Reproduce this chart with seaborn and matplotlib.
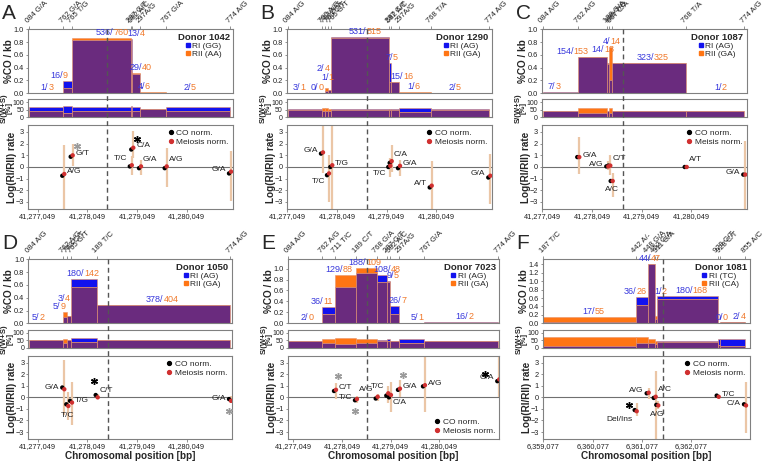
import numpy as np
import pandas as pd
import matplotlib
matplotlib.use("Agg")
import matplotlib.pyplot as plt
from matplotlib.lines import Line2D
from matplotlib.transforms import blended_transform_factory
import seaborn as sns

# ---------------- data ----------------
# Panel A, donor 1042
snp_pos_A = [41276880, 41277564, 41277733, 41278922, 41278952, 41279107, 41279624, 41280918]
snp_lab_A = ["084 G/A", "762 G/A", "765 T/G", "287 C/T", "582 A/C", "297A/G", "767 G/A", "774 A/G"]
rate_RI_A = [0.008, 0.19, 0.84, 0.85, 0.30, 0.012, 0.006]
rate_RII_A = [0.012, 0.08, 0.87, 0.33, 0.32, 0.018, 0.010]
n_RI_A = [1, 16, 536, 13, 29, 4, 2]
n_RII_A = [3, 9, 760, 4, 40, 6, 5]
sws_RI_A = [67, 78, 67, 72, 67, 53, 67]
sws_RII_A = [43, 27, 43, 43, 43, 55, 43]
pt_idx_A = [1, 2, 3, 4, 5, 6, 7]
pt_lab_A = ["A/G", "G/T", "T/C", "C/A", "G/A", "A/G", "G/A"]
co_A = [-0.75, 0.88, 0.05, 1.5, -0.1, -0.1, -0.55]
meio_A = [-0.6, 1.0, 0.15, 1.65, 0.05, 0.05, -0.4]
lo_A = [-3.8, 0.05, -0.7, 0.8, -0.7, -1.7, -2.9]
hi_A = [1.9, 2.0, 0.9, 3.1, 0.6, 1.6, 1.4]
star_x_A = [41277834, 41279041]
star_y_A = [1.8, 2.4]
star_kind_A = ["meiosis", "co"]

# Panel B, donor 1290
snp_pos_B = [41277057, 41277747, 41277801, 41277868, 41277934, 41279101, 41279129, 41279296, 41279934, 41281113]
snp_lab_B = ["084 A/G", "760 A/G", "763 A/G", "763 C/T", "765 G/T", "287 C/T", "582 A/C", "297A/G", "768 T/A", "774 A/G"]
rate_RI_B = [0.008, 0.0, 0.04, 0.05, 0.875, 0.48, 0.17, 0.006, 0.004]
rate_RII_B = [0.004, 0.0, 0.08, 0.05, 0.87, 0.18, 0.18, 0.02, 0.008]
n_RI_B = [3, 0, 2, 1, 531, 7, 15, 1, 2]
n_RII_B = [1, 0, 4, 1, 515, 5, 16, 6, 5]
sws_RI_B = [52, 40, 40, 45, 52, 58, 52, 64, 52]
sws_RII_B = [48, 60, 62, 55, 48, 48, 48, 33, 48]
pt_idx_B = [1, 3, 4, 5, 6, 7, 8, 9]
pt_lab_B = ["G/A", "T/C", "T/G", "T/C", "C/A", "G/A", "A/T", "G/A"]
co_B = [1.15, -0.7, 0.0, 0.0, 0.35, -0.1, -1.75, -0.9]
meio_B = [1.25, -0.55, 0.15, 0.1, 0.5, 0.1, -1.6, -0.75]
lo_B = [-0.5, -3.0, -3.8, -0.9, -0.4, -0.8, -3.8, -3.2]
hi_B = [3.8, 1.0, 3.8, 0.8, 1.9, 0.6, 0.5, 1.1]
star_x_B, star_y_B, star_kind_B = [], [], []

# Panel C, donor 1087
snp_pos_C = [41277057, 41277773, 41278357, 41278397, 41278445, 41279934, 41281113]
snp_lab_C = ["084 A/G", "762 A/G", "188 G/A", "189 T/C", "567 C/A", "768 T/A", "774 A/G"]
rate_RI_C = [0.02, 0.57, 0.47, 0.20, 0.48, 0.004]
rate_RII_C = [0.01, 0.57, 0.45, 0.72, 0.48, 0.008]
n_RI_C = [7, 154, 14, 4, 323, 1]
n_RII_C = [3, 153, 13, 14, 325, 2]
sws_RI_C = [45, 31, 45, 31, 45, 45]
sws_RII_C = [45, 60, 45, 60, 45, 45]
pt_idx_C = [1, 2, 3, 4, 5, 6]
pt_lab_C = ["G/A", "A/G", "C/T", "A/C", "A/T", "G/A"]
co_C = [0.85, 0.05, 0.12, -1.2, 0.0, -0.65]
meio_C = [0.85, 0.05, 0.12, -1.2, 0.0, -0.65]
lo_C = [-0.6, -0.3, -0.7, -2.6, -0.1, -3.8]
hi_C = [2.6, 0.5, 1.0, -0.5, 0.1, 2.2]
star_x_C, star_y_C, star_kind_C = [], [], []

# Panel D, donor 1050
snp_pos_D = [41276880, 41277564, 41277645, 41277719, 41278236, 41280918]
snp_lab_D = ["084 A/G", "762 A/G", "763 C/T", "765 G/T", "189 T/C", "774 A/G"]
rate_RI_D = [0.008, 0.10, 0.11, 0.69, 0.28]
rate_RII_D = [0.005, 0.18, 0.12, 0.56, 0.29]
n_RI_D = [5, 5, 3, 180, 378]
n_RII_D = [2, 9, 4, 142, 404]
sws_RI_D = [50, 35, 50, 68, 50]
sws_RII_D = [50, 62, 50, 38, 50]
pt_idx_D = [1, 2, 3, 4, 5]
pt_lab_D = ["G/A", "T/C", "T/G", "C/T", "G/A"]
co_D = [0.85, -0.6, -0.3, 0.2, -0.15]
meio_D = [0.7, -0.75, -0.45, 0.0, -0.3]
lo_D = [-1.5, -2.0, -2.4, -0.1, -0.5]
hi_D = [3.2, 0.5, 1.3, 0.3, 0.1]
star_x_D = [41278182, 41280905]
star_y_D = [1.45, -1.15]
star_kind_D = ["co", "meiosis"]

# Panel E, donor 7023
snp_pos_E = [41276946, 41277645, 41277906, 41278337, 41278763, 41278981, 41279036, 41279221, 41279735, 41281262]
snp_lab_E = ["084 A/G", "762 A/G", "711 T/C", "189 C/T", "768 G/A", "287 C/T", "582 A/C", "297A/G", "767 G/A", "774 A/G"]
rate_RI_E = [0.006, 0.29, 0.66, 0.92, 0.89, 0.77, 0.32, 0.006, 0.02]
rate_RII_E = [0.0, 0.17, 0.88, 1.02, 0.76, 0.75, 0.17, 0.003, 0.006]
n_RI_E = [2, 36, 129, 188, 108, 9, 26, 5, 16]
n_RII_E = [0, 11, 88, 109, 48, 5, 7, 1, 2]
sws_RI_E = [48, 35, 28, 35, 50, 60, 48, 62, 48]
sws_RII_E = [48, 58, 68, 58, 48, 45, 48, 35, 48]
pt_idx_E = [2, 3, 4, 5, 6, 7, 8, 9]
pt_lab_E = ["C/T", "T/C", "A/G", "T/C", "C/A", "G/A", "A/G", "G/A"]
co_E = [0.55, -0.25, -0.1, 0.15, 0.0, 0.65, 0.95, 1.4]
meio_E = [0.65, -0.15, 0.05, 0.35, 0.2, 0.75, 1.05, 1.55]
lo_E = [-0.1, -0.5, -0.3, -0.5, -1.3, 0.0, -1.3, 0.0]
hi_E = [1.2, 0.1, 0.3, 1.0, 1.3, 1.5, 3.6, 3.8]
star_x_E = [41277973, 41278316, 41279295, 41280985]
star_y_E = [1.85, -1.15, 1.9, 2.05]
star_kind_E = ["meiosis", "meiosis", "meiosis", "co"]

# Panel F, donor 1081
snp_pos_F = [6359077, 6360950, 6361193, 6361335, 6361388, 6362612, 6362659, 6363166]
snp_lab_F = ["187 T/C", "442 A/-", "448 G/A", "452 C/A", "311 G/A", "929 C/T", "928 C/T", "855 A/C"]
rate_RI_F = [0.03, 0.62, 1.40, 0.10, 0.65, 0.0, 0.02]
rate_RII_F = [0.14, 0.44, 1.41, 0.18, 0.57, 0.0, 0.04]
n_RI_F = [17, 36, 44, 1, 180, 0, 2]
n_RII_F = [55, 26, 47, 2, 168, 0, 4]
sws_RI_F = [11, 30, 35, 25, 47, 62, 62]
sws_RII_F = [73, 70, 60, 45, 37, 20, 12]
pt_idx_F = [1, 2, 3, 4, 5, 7]
pt_lab_F = ["Del/Ins", "A/G", "A/C", "A/G", "T/C", "C/A"]
co_F = [-1.1, 0.35, -0.05, -0.65, 0.15, -0.6]
meio_F = [-1.2, 0.4, 0.05, -0.7, 0.05, -0.7]
lo_F = [-1.6, -0.1, -3.8, -1.0, -0.1, -3.1]
hi_F = [-0.5, 0.8, 2.3, -0.3, 0.2, 1.3]
star_x_F = [6360814]
star_y_F = [-0.7]
star_kind_F = ["co"]

kb_ticks_chr15 = [41277049, 41278049, 41279049, 41280049]
kb_ticks_F = [6359077, 6360077, 6361077, 6362077]

# ---------------- style ----------------
BLUE = "#1212EE"
ORANGE = "#FF7514"
PURPLE = "#6A2B7E"
EDGE = "#E8946A"
LBLUE = "#3838DC"
LORANGE = "#F0782A"
ERR = "#EBC6A6"
RED = "#D03030"
GREY = "#808080"

sns.set_theme(style="white")
plt.rcParams["font.family"] = ["Liberation Sans", "DejaVu Sans"]
plt.rcParams["axes.edgecolor"] = GREY
plt.rcParams["axes.linewidth"] = 0.8

W, H = 763, 462
fig = plt.figure(figsize=(W / 100, H / 100), dpi=100)


def rect(x0, x1, y0, y1):
    return [x0 / W, 1 - y1 / H, (x1 - x0) / W, (y1 - y0) / H]


ROW_TOP = (29.3, 93.3, 99.3, 117.3, 125, 209)
ROW_BOT = (259.3, 323.3, 330, 347.7, 355.7, 439)

panels = [
    dict(name="A", donor="Donor 1042", leg=["RI (GG)", "RII (AA)"], cols=(28, 233), rows=ROW_TOP,
         xlim=(41276854, 41280978), dash=41278443, ytop=1.0, ticks=kb_ticks_chr15,
         snp=snp_pos_A, snp_lab=snp_lab_A, ri=rate_RI_A, rii=rate_RII_A, n1=n_RI_A, n2=n_RII_A,
         s1=sws_RI_A, s2=sws_RII_A, idx=pt_idx_A, plab=pt_lab_A, co=co_A, meio=meio_A, lo=lo_A, hi=hi_A,
         sx=star_x_A, sy=star_y_A, sk=star_kind_A, mleg="Meiosis norm.", legloc="upper right",
         nudge={0: (2, 0), 1: (-5, 0), 2: (12, 0), 3: (8, 0), 4: (6, 0), 5: (-8, 0), 6: (-7, 0)},
         sides=["r", "r", "la", "r", "ra", "ra", "l"]),
    dict(name="B", donor="Donor 1290", leg=["RI (AG)", "RII (GA)"], cols=(286.7, 491.7), rows=ROW_TOP,
         xlim=(41277037, 41281161), dash=41278646, ytop=1.0, ticks=kb_ticks_chr15,
         snp=snp_pos_B, snp_lab=snp_lab_B, ri=rate_RI_B, rii=rate_RII_B, n1=n_RI_B, n2=n_RII_B,
         s1=sws_RI_B, s2=sws_RII_B, idx=pt_idx_B, plab=pt_lab_B, co=co_B, meio=meio_B, lo=lo_B, hi=hi_B,
         sx=star_x_B, sy=star_y_B, sk=star_kind_B, mleg="Meiosis norm.", legloc="upper right",
         nudge={0: (-5, 0), 1: (-5, 0), 2: (-2, 14), 3: (-1, 7), 4: (6, 0), 5: (3, 0), 6: (8, 0), 7: (0, 0), 8: (-4, 0)},
         sides=["l", "lb", "r", "lb", "ra", "r", "l", "l"]),
    dict(name="C", donor="Donor 1087", leg=["RI (AG)", "RII (GA)"], cols=(541.7, 746.7), rows=ROW_TOP,
         xlim=(41277037, 41281161), dash=41278667, ytop=1.0, ticks=kb_ticks_chr15,
         snp=snp_pos_C, snp_lab=snp_lab_C, ri=rate_RI_C, rii=rate_RII_C, n1=n_RI_C, n2=n_RII_C,
         s1=sws_RI_C, s2=sws_RII_C, idx=pt_idx_C, plab=pt_lab_C, co=co_C, meio=meio_C, lo=lo_C, hi=hi_C,
         sx=star_x_C, sy=star_y_C, sk=star_kind_C, mleg="Meisis norm.", legloc="upper right",
         nudge={0: (-5, 0), 1: (-19, 0), 2: (-4, 8), 3: (0, 0), 4: (5, 0), 5: (7, 0)},
         sides=["r", "l", "ra", "b", "ra", "l"]),
    dict(name="D", donor="Donor 1050", leg=["RI (AG)", "RII (GA)"], cols=(28.3, 231.7), rows=ROW_BOT,
         xlim=(41276860, 41280952), dash=41278470, ytop=1.0, ticks=kb_ticks_chr15,
         snp=snp_pos_D, snp_lab=snp_lab_D, ri=rate_RI_D, rii=rate_RII_D, n1=n_RI_D, n2=n_RII_D,
         s1=sws_RI_D, s2=sws_RII_D, idx=pt_idx_D, plab=pt_lab_D, co=co_D, meio=meio_D, lo=lo_D, hi=hi_D,
         sx=star_x_D, sy=star_y_D, sk=star_kind_D, mleg="Meiosis norm.", legloc="upper right",
         nudge={0: (-7, 0), 1: (-5, 0), 2: (-4, 12), 3: (0, 0), 4: (0, 0)},
         sides=["l", "b", "r", "ra", "l"]),
    dict(name="E", donor="Donor 7023", leg=["RI (AG)", "RII (GA)"], cols=(287.7, 499.3), rows=ROW_BOT,
         xlim=(41276934, 41281283), dash=41278557, ytop=1.17, ticks=kb_ticks_chr15,
         snp=snp_pos_E, snp_lab=snp_lab_E, ri=rate_RI_E, rii=rate_RII_E, n1=n_RI_E, n2=n_RII_E,
         s1=sws_RI_E, s2=sws_RII_E, idx=pt_idx_E, plab=pt_lab_E, co=co_E, meio=meio_E, lo=lo_E, hi=hi_E,
         sx=star_x_E, sy=star_y_E, sk=star_kind_E, mleg="Meiosis norm.", legloc="lower right",
         nudge={0: (3, 0), 1: (-5, 0), 2: (-3, 0), 3: (0, 0), 4: (9, 0), 5: (5, 0), 6: (7, 0), 7: (7, 0), 8: (7, 0)},
         sides=["r", "l", "la", "la", "rb", "r", "r", "l"]),
    dict(name="F", donor="Donor 1081", leg=["RI (TC)", "RII (CA)"], cols=(542.7, 750), rows=ROW_BOT,
         xlim=(6359065, 6363267), dash=6361509, ytop=1.52, ticks=kb_ticks_F,
         snp=snp_pos_F, snp_lab=snp_lab_F, ri=rate_RI_F, rii=rate_RII_F, n1=n_RI_F, n2=n_RII_F,
         s1=sws_RI_F, s2=sws_RII_F, idx=pt_idx_F, plab=pt_lab_F, co=co_F, meio=meio_F, lo=lo_F, hi=hi_F,
         sx=star_x_F, sy=star_y_F, sk=star_kind_F, mleg="Meiosis norm.", legloc="upper right",
         nudge={0: (5, 0), 1: (-5, 0), 2: (0, 0), 3: (6, 19), 4: (5, 0), 5: (4, 0), 6: (8, 0)},
         sides=["lb", "l", "ra", "b", "r", "l"]),
]

SIDES = {"r": (4, 2, "left"), "l": (-4, 2, "right"), "ra": (3, 7, "left"), "la": (-3, 7, "right"),
         "rb": (3, -7, "left"), "lb": (-3, -8, "right"), "b": (0, -9, "center")}
DODGE = 20


def step_bars(ax, edges, a, b):
    a = np.asarray(a, float)
    b = np.asarray(b, float)
    left = edges[:-1]
    width = np.diff(edges)
    low = np.minimum(a, b)
    high = np.maximum(a, b)
    cols = [BLUE if u > v else ORANGE for u, v in zip(a, b)]
    ax.bar(left, high - low, width=width, bottom=low, align="edge", color=cols,
           edgecolor=EDGE, linewidth=0.4)
    ax.bar(left, low, width=width, align="edge", color=PURPLE, edgecolor=EDGE, linewidth=0.4)


def style_ticks(ax):
    ax.tick_params(axis="both", which="both", length=1.8, width=0.6, color=GREY, pad=1,
                   labelsize=5.3, labelcolor="#222222")


for p in panels:
    x0, x1 = p["cols"]
    r = p["rows"]
    ax1 = fig.add_axes(rect(x0, x1, r[0], r[1]))
    ax2 = fig.add_axes(rect(x0, x1, r[2], r[3]))
    ax3 = fig.add_axes(rect(x0, x1, r[4], r[5]))
    edges = np.asarray(p["snp"], float)

    # CO rate per interval
    step_bars(ax1, edges, p["ri"], p["rii"])
    ax1.set_xlim(p["xlim"])
    ax1.set_ylim(0, p["ytop"])
    yt = np.arange(0, p["ytop"] + 0.001, 0.2)
    ax1.set_yticks(yt)
    ax1.set_yticklabels([f"{v:.1f}" for v in yt])
    ax1.xaxis.tick_top()
    ax1.set_xticks(edges)
    ax1.set_xticklabels(p["snp_lab"], rotation=45, ha="left", va="bottom",
                        rotation_mode="anchor")
    style_ticks(ax1)
    ax1.tick_params(axis="x", top=True, bottom=False, labelsize=5.5, pad=1, length=2.5)
    ax1.tick_params(axis="y", left=True)
    ax1.set_ylabel("%CO / kb", fontsize=7.2, fontweight="bold")
    for i in range(len(p["ri"])):
        xc = (edges[i] + edges[i + 1]) / 2
        yc = max(p["ri"][i], p["rii"][i])
        dx, dy = p["nudge"].get(i, (0, 0))
        ax1.annotate(f"{p['n1'][i]}/", (xc, yc), xytext=(dx, dy + 1), textcoords="offset pixels",
                     ha="right", va="bottom", color=LBLUE, fontsize=6.5, annotation_clip=False)
        ax1.annotate(f"{p['n2'][i]}", (xc, yc), xytext=(dx, dy + 1), textcoords="offset pixels",
                     ha="left", va="bottom", color=LORANGE, fontsize=6.5, annotation_clip=False)
    h = [Line2D([], [], marker="s", ls="", color=BLUE, ms=3.2),
         Line2D([], [], marker="s", ls="", color=ORANGE, ms=3.2)]
    leg = ax1.legend(h, p["leg"], title=p["donor"], loc="upper right", frameon=False, fontsize=6,
                     title_fontsize=6.8, handlelength=0.5, handletextpad=0.3, labelspacing=0.05,
                     borderpad=0.2, borderaxespad=0.2)
    leg.get_title().set_fontweight("bold")

    # S/(W+S)
    step_bars(ax2, edges, p["s1"], p["s2"])
    ax2.set_xlim(p["xlim"])
    ax2.set_ylim(0, 120)
    ax2.set_yticks([0, 50, 100])
    ax2.set_xticks([])
    style_ticks(ax2)
    ax2.tick_params(axis="y", left=True, labelsize=5)
    ax2.set_ylabel("S/(W+S)\n[%]", fontsize=5.6, fontweight="bold", linespacing=0.65)

    # log ratio
    pos = edges[p["idx"]]
    n = len(pos)
    ax3.axhline(0, color="#707070", lw=0.8, zorder=0)
    ax3.vlines(pos + DODGE, p["lo"], p["hi"], color=ERR, lw=1.6, zorder=1)
    df = pd.DataFrame({"pos": np.r_[pos - DODGE, pos + DODGE],
                       "val": np.r_[p["co"], p["meio"]],
                       "kind": ["CO norm."] * n + ["Meiosis norm."] * n})
    sns.scatterplot(data=df, x="pos", y="val", hue="kind",
                    palette={"CO norm.": "black", "Meiosis norm.": RED},
                    s=10, linewidth=0, legend=False, ax=ax3, zorder=3)
    for xp, yp, lab, sd in zip(pos, p["meio"], p["plab"], p["sides"]):
        dx, dy, ha = SIDES[sd]
        ax3.annotate(lab, (xp, yp), xytext=(dx, dy), textcoords="offset pixels", ha=ha,
                     va="center", fontsize=6.0, color="#222222")
    for xs, ys, kind in zip(p["sx"], p["sy"], p["sk"]):
        ax3.plot([xs], [ys], marker=(6, 2, 0), ms=5, mew=1.0,
                 color="black" if kind == "co" else "#9A9A9A", ls="", zorder=4)
    ax3.set_xlim(p["xlim"])
    ax3.set_ylim(-3.6, 3.6)
    ax3.set_yticks([-3, -2, -1, 0, 1, 2, 3])
    ax3.set_xticks(p["ticks"])
    ax3.set_xticklabels([f"{v:,}" for v in p["ticks"]])
    style_ticks(ax3)
    ax3.tick_params(axis="both", left=True, bottom=True)
    ax3.set_ylabel("Log(RI/RII) rate", fontsize=7.2, fontweight="bold")
    ax3.set_xlabel("Chromosomal position [bp]" if r is ROW_BOT else "",
                   fontsize=7.2, fontweight="bold", labelpad=1)
    h2 = [Line2D([], [], marker="o", ls="", color="black", ms=2.8),
          Line2D([], [], marker="o", ls="", color=RED, ms=2.8)]
    ax3.legend(h2, ["CO norm.", p["mleg"]], loc=p["legloc"], frameon=False, fontsize=6,
               handlelength=0.8, handletextpad=0.3, labelspacing=0.15, borderpad=0.2,
               borderaxespad=0.3)

    wpx = x1 - x0
    ax1.yaxis.set_label_coords(-14 / wpx, 0.5)
    ax2.yaxis.set_label_coords(-15 / wpx, 0.5)
    ax3.yaxis.set_label_coords(-11 / wpx, 0.5)

    # dashed line through all three axes
    tr = blended_transform_factory(ax1.transData, fig.transFigure)
    fig.add_artist(Line2D([p["dash"], p["dash"]], [1 - r[0] / H, 1 - r[5] / H], transform=tr,
                          ls=(0, (3.5, 2.5)), color="#555555", lw=1.0))

    # panel letter
    fig.text((x0 - 26) / W, 1 - (r[0] - 25) / H, p["name"], fontsize=15, va="top", ha="left")

fig.savefig("out.png", dpi=100)
